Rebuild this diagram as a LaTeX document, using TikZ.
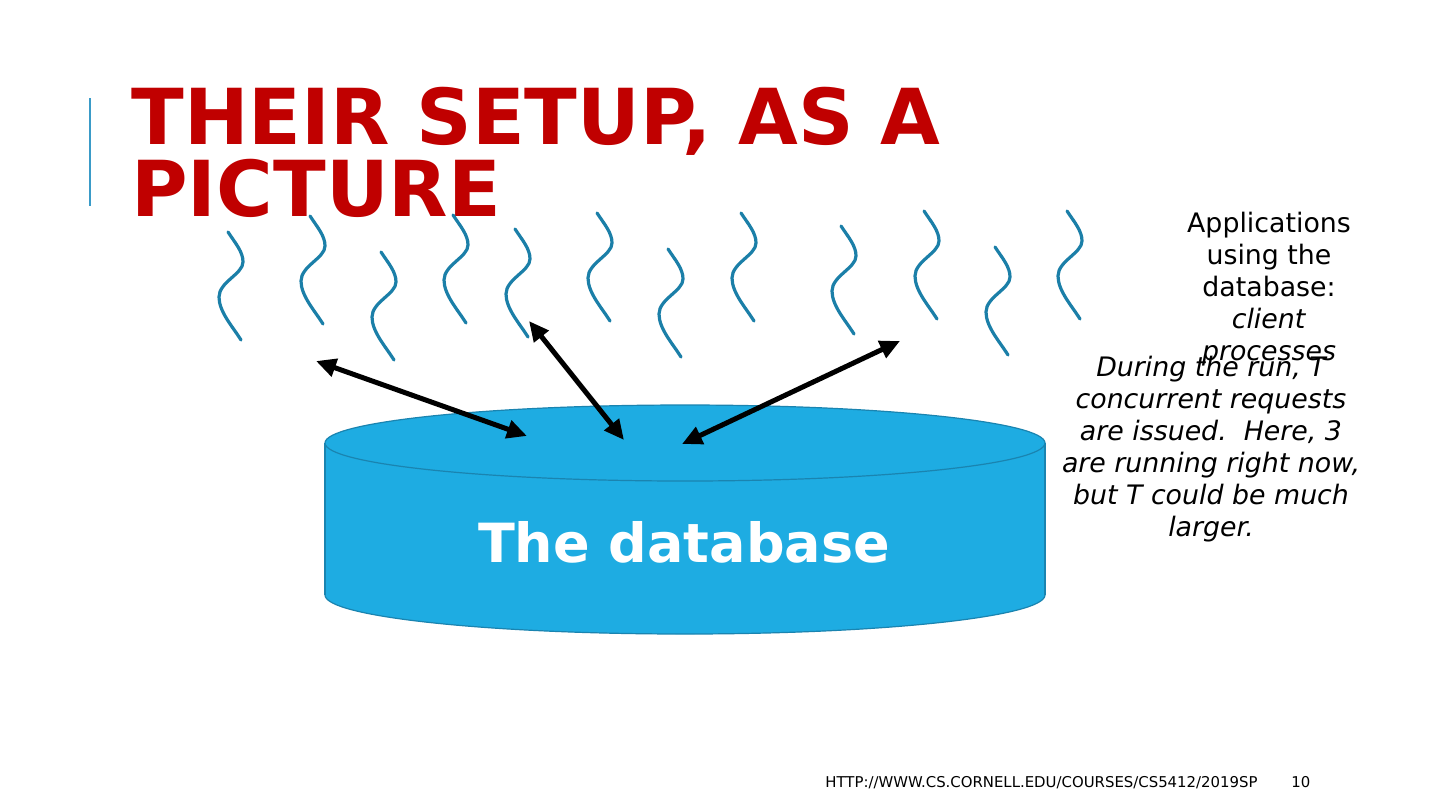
\documentclass[tikz,border=0pt]{standalone}
\usepackage{fontspec}
\setmainfont{DejaVu Sans}
\usetikzlibrary{arrows.meta}
\definecolor{titlered}{HTML}{C00000}
\definecolor{dbfill}{HTML}{1EACE2}
\definecolor{dbline}{HTML}{1A84B0}
\definecolor{squigcol}{HTML}{1B7FA8}
\definecolor{barcol}{HTML}{3A9BC8}
\tikzset{
  sqline/.style={draw=squigcol, line width=1.6pt, line cap=round},
  squig/.pic={\draw[sqline] (0,0) .. controls (8,12) and (15,20) .. (15,30)
      .. controls (15,42) and (-9,50) .. (-9,65)
      .. controls (-9,80) and (5,95) .. (13,108);},
  bigarrow/.style={line width=2.5pt, {Triangle[length=10pt,width=9pt]}-{Triangle[length=10pt,width=9pt]}},
  dbbody/.style={fill=dbfill, draw=dbline, line width=0.6pt},
  sidetext/.style={align=center, inner sep=0pt, font=\fontsize{13.4}{16}\selectfont},
}
\begin{document}
\begin{tikzpicture}[x=0.5pt,y=-0.5pt]
\useasboundingbox[fill=white] (0,0) rectangle (1440,810);
% left bar
\draw[barcol, line width=1pt] (90,98) -- (90,206);
% title
\node[anchor=north west, inner sep=0pt, align=left, text=titlered,
  font=\fontsize{38.6}{36}\selectfont\bfseries] (title) at (131,87) {THEIR SETUP, AS A\\PICTURE};
% squiggles
\foreach \x/\y in {228/232, 310/216, 381/252, 453/215, 515/229, 597/213, 668/249, 741/213, 841/226, 924/211, 995/247, 1067/211}
  \pic at (\x,\y) {squig};
% database cylinder
\fill[dbbody] (685,595) ellipse [x radius=360, y radius=39];
\fill[dbfill] (325,443) rectangle (1045,595);
\draw[dbline, line width=0.6pt] (325,443) -- (325,595) (1045,443) -- (1045,595);
\filldraw[dbbody] (685,443) ellipse [x radius=360, y radius=38];
\node[text=white, font=\fontsize{27}{30}\selectfont\bfseries] (db) at (684,542) {The database};
% arrows
\coordinate (a1s) at (316,361); \coordinate (a1e) at (527,436);
\coordinate (a2s) at (529,321); \coordinate (a2e) at (624,440);
\coordinate (a3s) at (900,341); \coordinate (a3e) at (682,444);
\draw[bigarrow] (a1s) -- (a1e);
\draw[bigarrow] (a2s) -- (a2e);
\draw[bigarrow] (a3s) -- (a3e);
% side texts
\node[sidetext, anchor=north] (apps) at (1269,212) {Applications\\using the\\database:\\\textit{client}\\\textit{processes}};
\node[sidetext, anchor=north, font=\fontsize{13.4}{16}\selectfont\itshape] (runs) at (1211,356) {During the run, T\\concurrent requests\\are issued.\ \ Here, 3\\are running right now,\\but T could be much\\larger.};
% footer
\node[anchor=base west, inner sep=0pt, font=\fontsize{7.45}{9}\selectfont] (url) at (825,787) {HTTP://WWW.CS.CORNELL.EDU/COURSES/CS5412/2019SP};
\node[anchor=base west, inner sep=0pt, font=\fontsize{7.45}{9}\selectfont] (pg) at (1291,787) {10};
\end{tikzpicture}
\end{document}
